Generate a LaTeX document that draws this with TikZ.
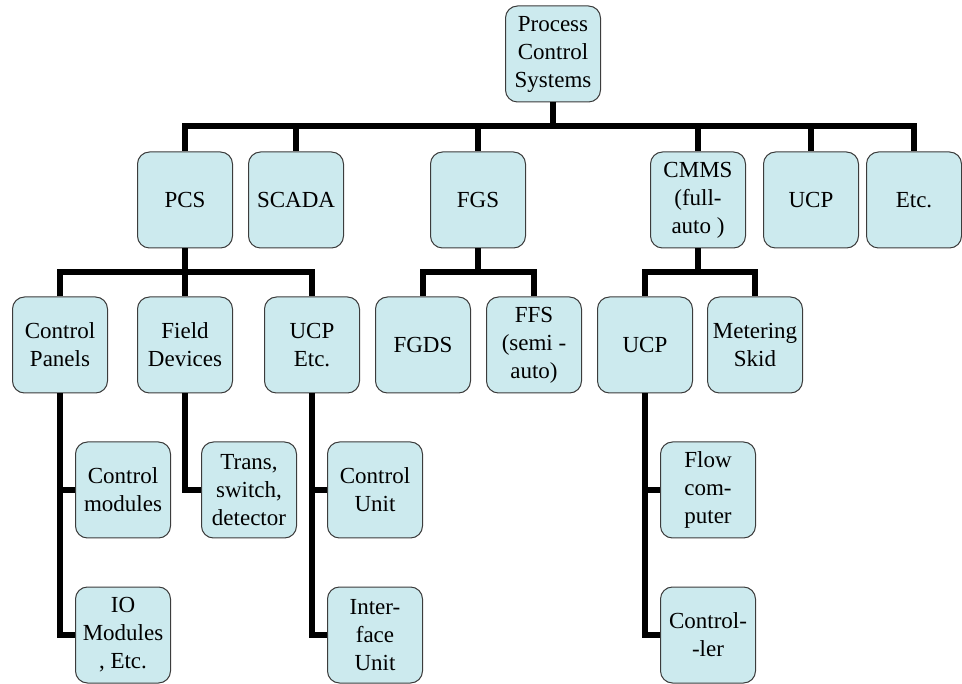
\documentclass[tikz,border=0pt]{standalone}
\usepackage{fontspec}
\setmainfont{Liberation Serif}
\usepackage{tikz}
\definecolor{boxfill}{RGB}{204,234,238}
\definecolor{boxline}{RGB}{60,60,60}
\tikzstyle{box}=[rectangle, rounded corners=12pt, draw=boxline, line width=1pt, fill=boxfill, minimum width=95pt, minimum height=96pt, inner sep=1pt, align=center, font=\fontsize{23}{28}\selectfont]
\tikzstyle{conn}=[line width=6pt, draw=black]

\begin{document}
\begin{tikzpicture}[x=1pt, y=-1pt]
    \useasboundingbox (0,0) rectangle (962,684);

    \node[box] (pcsys) at (553,54) {Process\\Control\\Systems};

    \node[box] (pcs) at (185,200) {PCS};
    \node[box] (scada) at (296,200) {SCADA};
    \node[box] (fgs) at (478,200) {FGS};
    \node[box] (cmms) at (698,200) {CMMS\\(full-\\auto )};
    \node[box] (ucpa) at (811,200) {UCP};
    \node[box] (etca) at (914,200) {Etc.};

    \node[box] (cpanel) at (60,345) {Control\\Panels};
    \node[box] (fdev) at (185,345) {Field\\Devices};
    \node[box] (ucpetc) at (312,345) {UCP\\Etc.};
    \node[box] (fgds) at (423,345) {FGDS};
    \node[box] (ffs) at (534,345) {FFS\\(semi -\\auto)};
    \node[box] (ucpb) at (645,345) {UCP};
    \node[box] (meter) at (755,345) {Metering\\Skid};

    \node[box] (cmod) at (123,490) {Control\\modules};
    \node[box] (iomod) at (123,635) {IO\\Modules\\, Etc.};
    \node[box] (trans) at (249,490) {Trans,\\switch,\\detector};
    \node[box] (cunit) at (375,490) {Control\\Unit};
    \node[box] (iunit) at (375,635) {Inter-\\face\\Unit};
    \node[box] (flow) at (708,490) {Flow\\com-\\puter};
    \node[box] (ctrl) at (708,635) {Control-\\-ler};

    \foreach \n in {pcs, scada, fgs, cmms, ucpa, etca}
        \draw[conn] (pcsys.south) -- ++(0,24) -| (\n.north);
    \foreach \n in {cpanel, fdev, ucpetc}
        \draw[conn] (pcs.south) -- ++(0,24) -| (\n.north);
    \foreach \n in {fgds, ffs}
        \draw[conn] (fgs.south) -- ++(0,24) -| (\n.north);
    \foreach \n in {ucpb, meter}
        \draw[conn] (cmms.south) -- ++(0,24) -| (\n.north);

    \draw[conn] (cpanel.south) |- (cmod.west);
    \draw[conn] (cpanel.south) |- (iomod.west);
    \draw[conn] (fdev.south) |- (trans.west);
    \draw[conn] (ucpetc.south) |- (cunit.west);
    \draw[conn] (ucpetc.south) |- (iunit.west);
    \draw[conn] (ucpb.south) |- (flow.west);
    \draw[conn] (ucpb.south) |- (ctrl.west);
\end{tikzpicture}
\end{document}
